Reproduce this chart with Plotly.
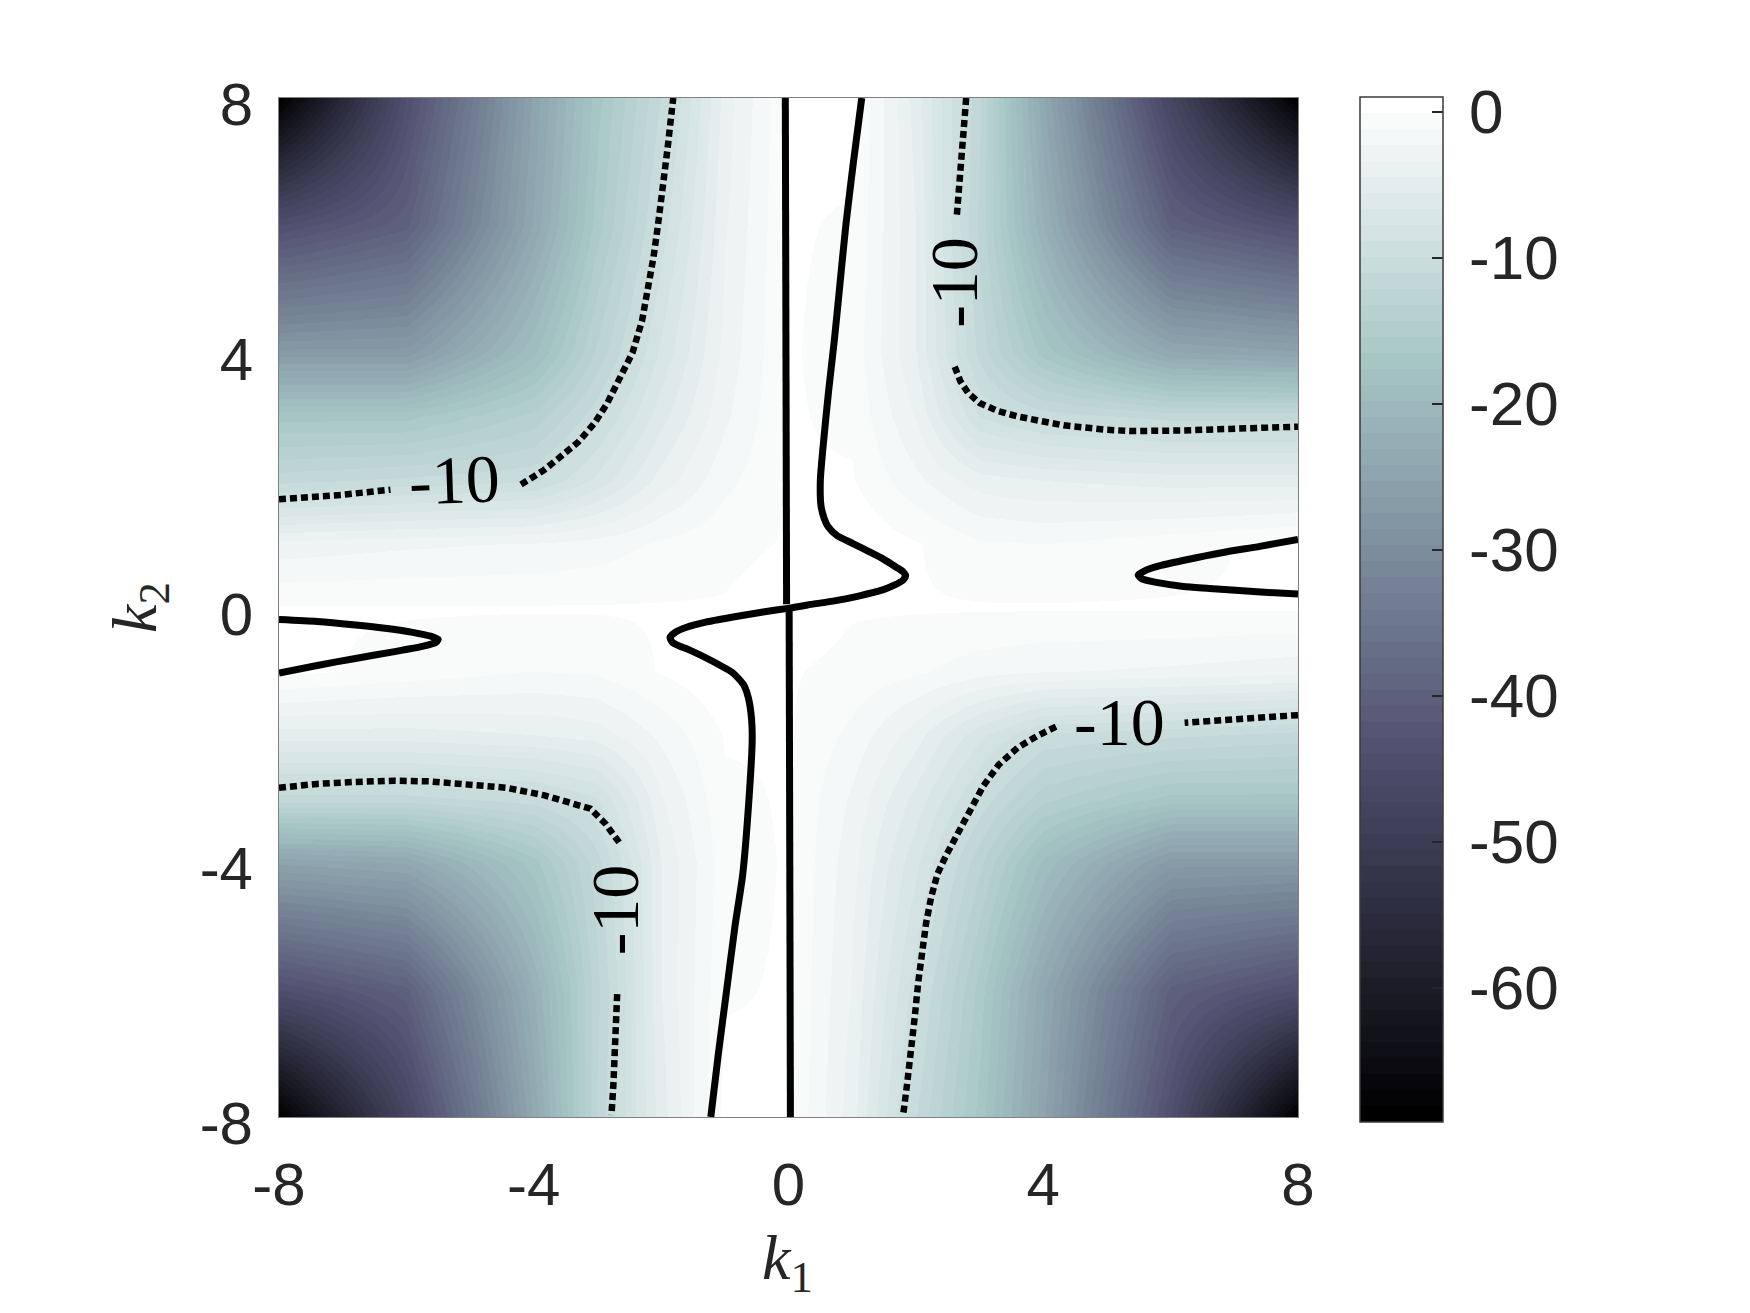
import numpy as np
import plotly.graph_objects as go

# grid (k1 columns, k2 rows from top to bottom)
k1 = [-8, -6, -4, -3, -2, -1, 0, 1, 2, 3, 4, 6, 8]
k2 = [8, 6, 4, 3, 2, 1, 0, -1, -2, -3, -4, -6, -8]
z_rows = [
    [-69, -44, -25, -17, -11, -4, 0, 0.3, -5, -12, -24, -47, -69],
    [-44, -40, -24, -16, -9.5, -3.5, 0, -0.2, -4.5, -12.5, -22, -40, -44],
    [-27, -27, -19, -13, -7.5, -3, 0, -0.5, -4.5, -11.5, -17, -24, -25],
    [-17, -17, -14, -10.3, -6, -2.5, 0, -0.3, -3.5, -9, -10.5, -11.5, -11.5],
    [-11.5, -10.8, -10.2, -7.5, -4, -1.5, 0, 0, -2, -4, -4.5, -5, -5],
    [-3, -2.5, -2.2, -1.8, -1, -0.4, 0, 0.8, 0, -1, -1.2, -0.5, 0.3],
    [0, 0, 0, 0, 0, 0, 0.5, 0, 0, 0, 0, 0, 0],
    [0.3, -0.5, -1.2, -1, 0, 0.8, 0, -0.4, -1, -1.8, -2.2, -2.5, -3],
    [-5, -5, -4.5, -4, -2, 0, 0, -1.5, -4, -7.5, -10.2, -10.8, -11.5],
    [-11.5, -11.5, -10.5, -9, -3.5, -0.3, 0, -2.5, -6, -10.3, -14, -17, -17],
    [-25, -24, -17, -11.5, -4.5, -0.5, 0, -3, -7.5, -13, -19, -27, -27],
    [-44, -40, -22, -12.5, -4.5, -0.2, 0, -3.5, -9.5, -16, -24, -40, -44],
    [-69, -47, -24, -12, -5, 0.3, 0, -4, -11, -17, -25, -44, -69],
]
zmin, zmax = -69.2, 1.0

# zero-level contours
v_up_x, v_up_y = [-0.05, -0.03], [8.0, 0.05]
v_dn_x, v_dn_y = [0.01, 0.03], [-0.02, -8.0]
s_x = [1.15, 1.02, 0.90, 0.80, 0.72, 0.63, 0.55, 0.50, 0.51, 0.56, 0.62, 0.76, 1.02, 1.28, 1.49,
       1.68, 1.80, 1.84, 1.80, 1.66, 1.49, 1.10, 0.70, 0.30, 0.02, -0.40, -0.87, -1.30, -1.60,
       -1.78, -1.86, -1.82, -1.70, -1.55, -1.20, -0.87, -0.70, -0.63, -0.58, -0.57, -0.62, -0.72,
       -0.84, -0.97, -1.10, -1.22]
s_y = [8.0, 7.0, 6.0, 5.0, 4.2, 3.4, 2.6, 2.0, 1.6, 1.4, 1.27, 1.13, 1.0, 0.87, 0.76,
       0.64, 0.56, 0.50, 0.43, 0.35, 0.28, 0.18, 0.10, 0.04, -0.01, -0.07, -0.15, -0.23, -0.31,
       -0.39, -0.47, -0.55, -0.61, -0.67, -0.84, -1.03, -1.22, -1.42, -1.75, -2.08, -3.0, -4.2,
       -5.0, -6.0, -7.0, -8.0]
w_x = [-8, -7.4, -6.84, -6.3, -5.9, -5.62, -5.50, -5.54, -5.75, -6.23, -6.8, -7.4, -8]
w_y = [-0.19, -0.22, -0.27, -0.33, -0.39, -0.45, -0.50, -0.55, -0.61, -0.70, -0.80, -0.91, -1.03]
e_x = [8, 7.4, 6.8, 6.25, 5.85, 5.6, 5.49, 5.55, 5.8, 6.2, 6.61, 7.3, 8]
e_y = [1.07, 0.96, 0.86, 0.75, 0.66, 0.58, 0.51, 0.45, 0.39, 0.33, 0.30, 0.25, 0.21]

# -10 contours (split where the labels sit)
m10 = [
    ([-8, -7, -6.25], [1.70, 1.77, 1.85]),
    ([-4.2, -3.85, -3.6, -3.3, -3.05, -2.85, -2.7, -2.57, -2.45, -2.3, -2.21, -2.12, -2.05, -1.98, -1.9, -1.81],
     [1.93, 2.15, 2.35, 2.6, 2.89, 3.2, 3.5, 3.75, 4.0, 4.5, 4.94, 5.5, 6.0, 6.5, 7.2, 8.0]),
    ([2.79, 2.74, 2.69, 2.64], [8.0, 7.3, 6.6, 6.12]),
    ([2.61, 2.7, 2.82, 3.0, 3.3, 3.6, 4.0, 4.32, 5.0, 5.4, 6.2, 7.0, 8.0],
     [3.78, 3.55, 3.37, 3.21, 3.08, 3.0, 2.92, 2.86, 2.79, 2.77, 2.78, 2.81, 2.84]),
    ([8.0, 7.0, 6.22], [-1.69, -1.75, -1.81]),
    ([4.2, 3.9, 3.6, 3.3, 3.06, 2.85, 2.64, 2.48, 2.34, 2.24, 2.16, 2.09, 2.04, 1.98, 1.92, 1.86, 1.8],
     [-1.87, -2.02, -2.2, -2.47, -2.8, -3.18, -3.58, -3.88, -4.18, -4.55, -4.96, -5.4, -5.86, -6.45, -7.07, -7.5, -7.97]),
    ([-8, -7.4, -6.84, -6.2, -5.64, -5.0, -4.43, -3.83, -3.11, -2.87, -2.63],
     [-2.83, -2.77, -2.74, -2.72, -2.73, -2.77, -2.83, -2.95, -3.16, -3.40, -3.73]),
    ([-2.69, -2.71, -2.72, -2.75, -2.78], [-6.07, -6.6, -7.07, -7.5, -7.97]),
]
# contour labels: x, y, angle
lab_x = [-5.25, 2.6, 5.19, -2.72]
lab_y = [2.0, 5.1, -1.80, -4.75]
lab_a = [-2, -90, 0, -90]

ticks = [-8, -4, 0, 4, 8]
cb_ticks = [0, -10, -20, -30, -40, -50, -60]


def bone(m):
    # matlab bone(m) = (7*gray + fliplr(hot))/8
    n = int(3 / 8 * m)
    t = np.arange(m) / (m - 1)
    hr = np.r_[np.arange(1, n + 1) / n, np.ones(m - n)]
    hg = np.r_[np.zeros(n), np.arange(1, n + 1) / n, np.ones(m - 2 * n)]
    hb = np.r_[np.zeros(2 * n), np.arange(1, m - 2 * n + 1) / (m - 2 * n)]
    return np.c_[(7 * t + hb) / 8, (7 * t + hg) / 8, (7 * t + hr) / 8]


cmap = bone(64)
cscale = []
for i, c in enumerate(cmap):
    col = 'rgb(%d,%d,%d)' % tuple(np.round(c * 255))
    cscale.append([i / 64, col])
    cscale.append([(i + 1) / 64, col])

# page body has an 8px margin, so the margins are trimmed by that much
L, R, T, B = 271, 460, 90, 204
W = 1750 - L - R  # plot width in px

fig = go.Figure()
fig.add_heatmap(
    x=k1, y=k2[::-1], z=z_rows[::-1], zsmooth='best', zmin=zmin, zmax=zmax,
    colorscale=cscale, hoverinfo='skip',
    colorbar=dict(
        x=(1360 - 279) / W, xanchor='left', y=(1117 - 97) / W, yanchor='top',
        len=1025, lenmode='pixels', thickness=83, thicknessmode='pixels',
        xpad=0, ypad=0, outlinecolor='#3a3a3a', outlinewidth=1.5,
        ticks='inside', ticklen=11, tickcolor='#262626', tickwidth=1.5,
        tickvals=cb_ticks, ticktext=['\u2009' + str(v) for v in cb_ticks],
        tickfont=dict(family='Liberation Sans', size=62, color='#262626'),
    ),
)

solid = dict(color='black', width=7, shape='spline', smoothing=0.6)
for xs, ys in [(v_up_x, v_up_y), (v_dn_x, v_dn_y), (s_x, s_y), (w_x, w_y), (e_x, e_y)]:
    fig.add_scatter(x=xs, y=ys, mode='lines', line=solid, hoverinfo='skip')
for xs, ys in m10:
    fig.add_scatter(x=xs, y=ys, mode='lines', hoverinfo='skip',
                    line=dict(color='black', width=6.5, dash='7px,4px'))

for x, y, a in zip(lab_x, lab_y, lab_a):
    fig.add_annotation(x=x, y=y, text='-10', showarrow=False, textangle=a,
                       xanchor='center', yanchor='middle',
                       font=dict(family='Liberation Serif', size=68, color='black'))

fig.add_annotation(x=(787 - 279) / W, y=(1117 - 1262) / W, xref='paper', yref='paper',
                   xanchor='center', yanchor='middle',
                   text='<i>k</i><sub>1</sub>', showarrow=False,
                   font=dict(family='Liberation Serif', size=64, color='#262626'))
fig.add_annotation(x=(139 - 279) / W, y=(1117 - 608) / W, xref='paper', yref='paper',
                   xanchor='center', yanchor='middle',
                   text='<i>k</i><sub>2</sub>', showarrow=False, textangle=-90,
                   font=dict(family='Liberation Serif', size=64, color='#262626'))

axis = dict(range=[-8, 8], tickvals=ticks, ticktext=[str(t) for t in ticks],
            showgrid=False, zeroline=False, showline=True, mirror=True,
            linecolor='#808080', linewidth=1, ticks='',
            tickfont=dict(family='Liberation Sans', size=60, color='#262626'))
fig.update_xaxes(**axis, ticklabelstandoff=15)
fig.update_yaxes(**axis, ticklabelstandoff=13, ticklabelshift=6)

fig.update_layout(width=1750, height=1313, margin=dict(l=L, r=R, t=T, b=B),
                  plot_bgcolor='white', paper_bgcolor='white', showlegend=False)

fig.write_html("out.html")
